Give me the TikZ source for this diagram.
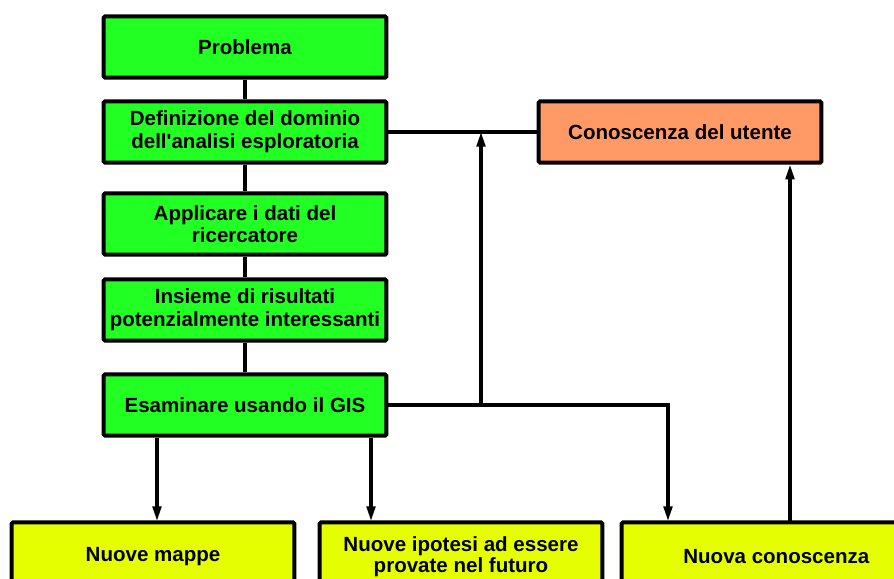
\documentclass[tikz,border=0pt]{standalone}
\usepackage{fontspec}
\setmainfont{Liberation Sans}
\usetikzlibrary{arrows.meta}
\definecolor{stepgreen}{RGB}{34,255,34}
\definecolor{useorange}{RGB}{255,153,102}
\definecolor{outyellow}{RGB}{230,255,0}
\tikzset{
  stepbox/.style={draw, line width=3pt, rounded corners=1pt, fill=stepgreen,
    minimum width=212pt, minimum height=46pt, align=center, inner sep=0pt,
    font=\fontsize{15.4}{17}\selectfont\bfseries},
  userbox/.style={stepbox, fill=useorange},
  outbox/.style={stepbox, fill=outyellow, minimum height=52pt,
    font=\fontsize{15.4}{15.6}\selectfont\bfseries},
  conn/.style={line width=2.3pt},
  arr/.style={conn, -{Stealth[length=11pt, width=6.5pt, inset=0pt]}}
}
\begin{document}
\begin{tikzpicture}[x=0.75pt, y=-0.75pt]
   \clip (0,0) rectangle (894,579);
   \fill[white] (0,0) rectangle (894,579);
   % main steps
   \node[stepbox] (prob) at (245,47) {Problema};
   \node[stepbox] (dom) at (245,132) {Definizione del dominio\\dell\textquotesingle analisi esploratoria};
   \node[stepbox] (apply) at (245,224) {Applicare i dati del\\ricercatore};
   \node[stepbox] (set) at (245,310) {Insieme di risultati\\potenzialmente interessanti};
   \node[stepbox] (exam) at (245,405) {Esaminare usando il GIS};
   \node[userbox] (user) at (680,132) {Conoscenza del utente};
   % results
   \node[outbox] (maps) at (153,557) {Nuove mappe};
   \node[outbox] (hyp) at (461,557) {Nuove ipotesi ad essere\\provate nel futuro};
   \node[outbox] (know) at (763,557) {\hspace{20pt}Nuova conoscenza};
   \coordinate (jn) at (481,132);
   \coordinate (jb) at (481,405);
   \coordinate (inmaps) at (157,521);
   \coordinate (inhyp) at (371,521);
   \coordinate (inknow) at (668,521);
   \coordinate (outknow) at (790,521);
   \draw[conn] (prob) -- (dom);
   \draw[conn] (dom) -- (apply);
   \draw[conn] (apply) -- (set);
   \draw[conn] (set) -- (exam);
   \draw[conn] (dom.east) -- (user.west);
   \draw[arr] (jb) -- (jn);
   \draw[arr] (exam.east) -| (inknow);
   \draw[arr] (exam.south -| inmaps) -- (inmaps);
   \draw[arr] (exam.south -| inhyp) -- (inhyp);
   \draw[arr] (outknow) -- (outknow |- user.south);
  \end{tikzpicture}
\end{document}
